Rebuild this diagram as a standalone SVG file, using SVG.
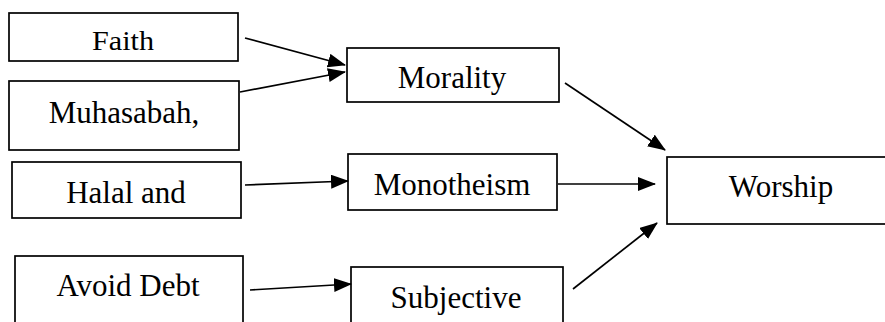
<svg xmlns="http://www.w3.org/2000/svg" width="885" height="322" viewBox="0 0 885 322">
<style>
.box{fill:#fff;stroke:#000;stroke-width:1.7}
text{font-family:'Liberation Serif','DejaVu Serif',serif;font-size:31px;fill:#000;text-anchor:middle}
.c line{stroke:#000;stroke-width:1.7;marker-end:url(#ah)}
</style>
<defs>
<marker id="ah" markerUnits="userSpaceOnUse" markerWidth="20" markerHeight="16" refX="17" refY="7" orient="auto">
<path d="M0,0 L18,7 L0,14 Z" fill="#000"/>
</marker>
</defs>
<rect width="885" height="322" fill="#fff"/>
<g id="faith"><rect class="box" x="9" y="13" width="229" height="48"/><text x="123" y="50" font-family="Liberation Serif, serif" style="font-size:28px" textLength="62" lengthAdjust="spacingAndGlyphs">Faith</text></g>
<g id="muhasabah"><rect class="box" x="9" y="81" width="230" height="69"/><text x="124" y="123" font-family="Liberation Serif, serif">Muhasabah,</text></g>
<g id="halal"><rect class="box" x="12" y="162" width="229" height="56"/><text x="126" y="203" font-family="Liberation Serif, serif">Halal and</text></g>
<g id="avoid"><rect class="box" x="15" y="256" width="228" height="80"/><text x="128" y="296" font-family="Liberation Serif, serif">Avoid Debt</text></g>
<g id="morality"><rect class="box" x="347" y="48" width="212" height="54"/><text x="452" y="88" font-family="Liberation Serif, serif">Morality</text></g>
<g id="monotheism"><rect class="box" x="348" y="154" width="209" height="56"/><text x="452" y="195" font-family="Liberation Serif, serif">Monotheism</text></g>
<g id="subjective"><rect class="box" x="351" y="267" width="212" height="70"/><text x="456" y="308" font-family="Liberation Serif, serif">Subjective</text></g>
<g id="worship"><rect class="box" x="667" y="157" width="222" height="67"/><text x="781" y="197" font-family="Liberation Serif, serif">Worship</text></g>
<g class="c" id="connectors">
<line x1="245" y1="38" x2="345" y2="65"/>
<line x1="240" y1="92" x2="345" y2="72"/>
<line x1="245" y1="185" x2="348" y2="181"/>
<line x1="250" y1="290" x2="351" y2="284"/>
<line x1="565" y1="83" x2="665" y2="150"/>
<line x1="558" y1="184" x2="655" y2="184"/>
<line x1="573" y1="289" x2="657" y2="223"/>
</g>
</svg>
